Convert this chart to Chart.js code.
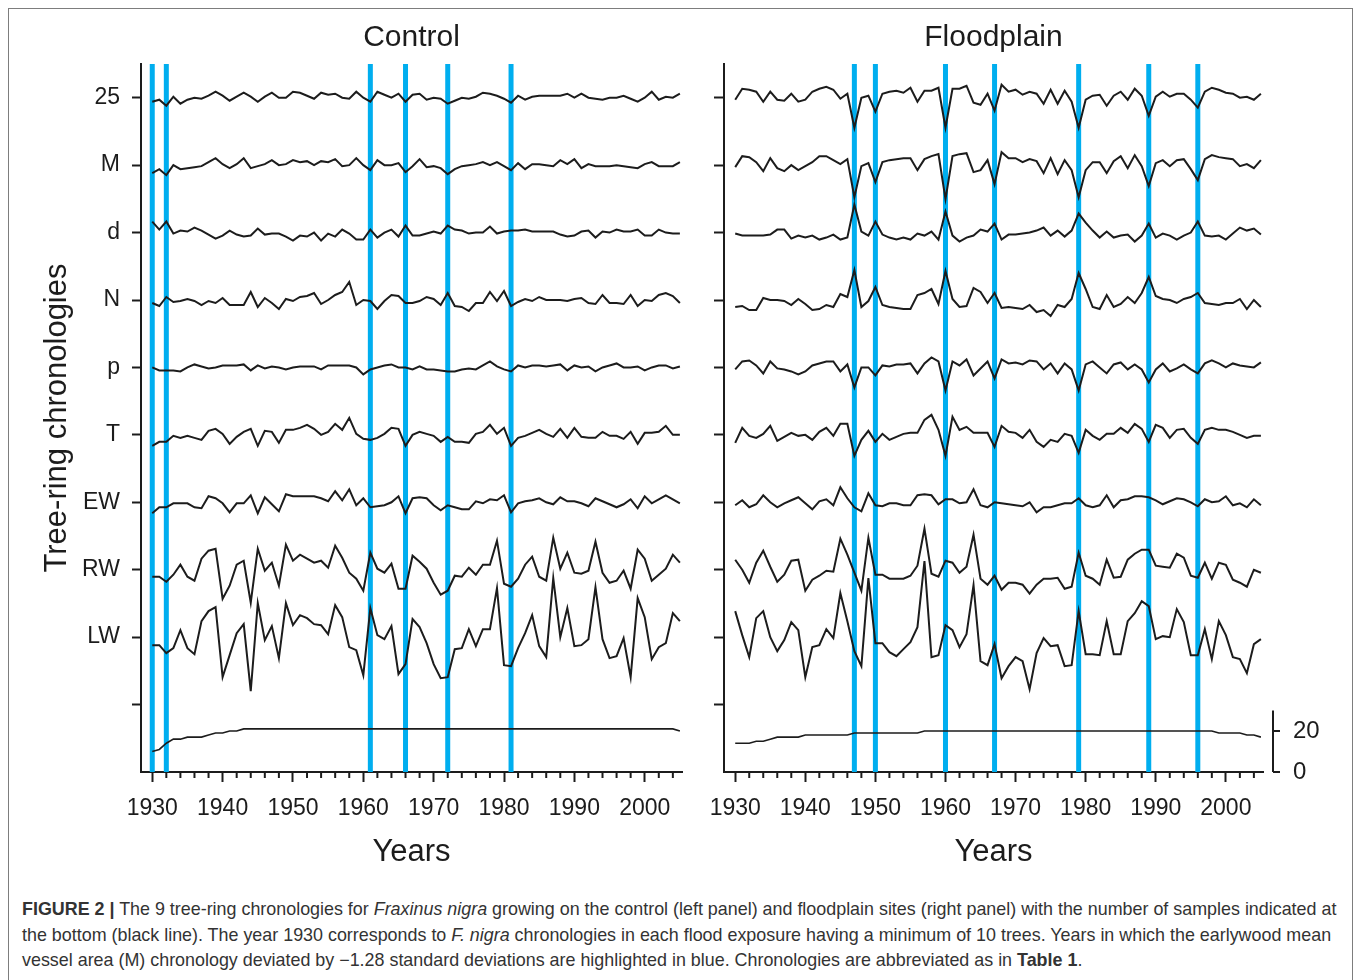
<!DOCTYPE html>
<html>
<head>
<meta charset="utf-8">
<title>Fraxinus nigra tree-ring chronologies</title>
<script src="https://cdn.jsdelivr.net/npm/chart.js@4.4.1/dist/chart.umd.min.js"></script>
<style>
  body { margin: 0; background: #fff; }
  #page { position: relative; width: 1360px; height: 980px; overflow: hidden; background: #fff; }
  #frame { position: absolute; left: 8px; top: 8px; width: 1345px; height: 990px; border: 1.5px solid #7d7d7d; box-sizing: border-box; }
  canvas { position: absolute; top: 0; }
  #cLeft { left: 0; }
  #cRight { left: 694px; }
  #caption { position: absolute; left: 22px; top: 897px; font-family: "Liberation Sans", Arial, sans-serif;
             font-size: 17.9px; line-height: 25.5px; color: #333; white-space: nowrap; }
</style>
</head>
<body>
<div id="page">
  <div id="frame"></div>
  <canvas id="cLeft" width="700" height="880"></canvas>
  <canvas id="cRight" width="666" height="880"></canvas>
  <div id="caption">
    <b>FIGURE 2 |</b> The 9 tree-ring chronologies for <i>Fraxinus nigra</i> growing on the control (left panel) and floodplain sites (right panel) with the number of samples indicated at<br>
    the bottom (black line). The year 1930 corresponds to <i>F. nigra</i> chronologies in each flood exposure having a minimum of 10 trees. Years in which the earlywood mean<br>
    vessel area (M) chronology deviated by −1.28 standard deviations are highlighted in blue. Chronologies are abbreviated as in <b>Table 1</b>.
  </div>
</div>
<script>
// años 1930-2005
const years = [1930, 1931, 1932, 1933, 1934, 1935, 1936, 1937, 1938, 1939,
  1940, 1941, 1942, 1943, 1944, 1945, 1946, 1947, 1948, 1949,
  1950, 1951, 1952, 1953, 1954, 1955, 1956, 1957, 1958, 1959,
  1960, 1961, 1962, 1963, 1964, 1965, 1966, 1967, 1968, 1969,
  1970, 1971, 1972, 1973, 1974, 1975, 1976, 1977, 1978, 1979,
  1980, 1981, 1982, 1983, 1984, 1985, 1986, 1987, 1988, 1989,
  1990, 1991, 1992, 1993, 1994, 1995, 1996, 1997, 1998, 1999,
  2000, 2001, 2002, 2003, 2004, 2005];

// etiquetas de las filas (de abajo hacia arriba)
const rowLabels = ['LW', 'RW', 'EW', 'T', 'p', 'N', 'd', 'M', '25'];
const decadeTicks = [1930, 1940, 1950, 1960, 1970, 1980, 1990, 2000];
const depthTicks = [0, 20];

// años con M < -1.28 desviaciones estándar
const controlFloodYears = [1930, 1932, 1961, 1966, 1972, 1981];
const floodFloodYears = [1947, 1950, 1960, 1967, 1979, 1989, 1996];

// desviaciones de cada cronología (control)
const control25 = [-4, -2, -8, 1, -6, -2, 0, -1, 2, 6, 2, -3, 1, 5, 1, -4, 1, 5, 0, 0,
  6, 5, 2, -1, 5, 3, 4, 0, -1, 6, 0, -4, 6, 3, 0, 4, -4, 3, 4, -2,
  0, -1, -6, -3, 0, -1, 1, 5, 4, 2, -1, -5, 2, -2, 1, 2, 2, 2, 2, 4,
  0, 4, 0, -1, -2, 0, 0, 2, -1, -4, 0, 6, -2, 1, 0, 4];
const controlM = [-8, -4, -10, 0, -4, -3, -2, -1, 3, 7, 1, -3, 1, 7, -3, -1, 1, 5, 0, 1,
  5, 3, 4, 0, 4, 3, 6, -1, 0, 7, 0, -5, 5, 0, 0, 2, -7, -1, 6, -2,
  -1, -3, -9, -4, -1, 0, 1, 3, 0, 3, -1, -5, 2, -4, 1, 1, 0, -1, 5, 1,
  6, -3, 1, -1, -1, -1, 0, -1, -2, -3, 1, 3, -1, -1, -1, 3];
const controlD = [11, 3, 11, -1, 2, 1, 5, 2, -2, -6, -3, 2, -2, -4, -3, 4, -2, -1, -1, -4,
  -8, -3, -4, 0, -8, -1, -4, 3, -1, -7, -7, 3, -5, 0, 3, -4, 7, -3, -3, -1,
  1, -1, 7, 3, 2, -1, 0, 0, 6, -1, 1, 2, 2, 3, 1, 1, 1, 1, -2, -4,
  -3, 1, 2, -5, 1, 0, 3, 1, 1, 3, -3, -3, 3, 0, -1, -1];
const controlN = [-3, -6, 3, -2, -1, 1, -1, -5, -1, -3, 2, -5, -5, -5, 8, -7, 2, -3, -9, 1,
  -1, 3, 4, 7, -4, 0, 5, 8, 18, -5, 0, -1, -9, -1, 5, 4, -3, -3, -1, 3,
  1, -5, 7, -6, -7, -11, -3, -3, 8, -1, 9, -6, -2, 1, -1, 3, 0, 0, 0, -1,
  1, 2, -3, -4, 5, -3, -3, -4, 5, -6, 0, -1, 5, 7, 4, -3];
const controlP = [0, -3, -3, -3, -4, 0, 3, 1, -1, 0, 2, 2, 2, 3, -3, 2, -1, 1, 0, -2,
  0, 1, 1, 1, -2, 2, 2, 2, 2, 0, -7, -2, 0, 2, 3, 0, 0, -2, 1, -2,
  -2, -3, -4, -4, -2, -1, -2, 2, 6, 1, -2, -4, 2, 0, 2, 2, 1, 2, 3, -3,
  2, 0, 1, -4, 0, 2, 4, 0, 0, 1, -3, 0, 2, 2, -1, 1];
const controlT = [-11, -7, -7, -1, -3, -1, -3, -5, 4, 6, 1, -9, -2, 3, 6, -11, 4, 3, -8, 5,
  5, 7, 10, 6, 0, 3, 11, 5, 17, 1, -4, -5, -3, 1, 7, 6, -11, 0, 3, 1,
  -1, -7, -2, -7, -7, -8, 1, 3, 10, 1, 7, -11, -3, -1, 2, 5, 1, -2, 6, -3,
  7, -2, -3, -3, 3, -1, -1, -4, 3, -9, 2, 2, 3, 9, 0, 0];
const controlEW = [-11, -5, -5, -1, -1, -1, -5, -6, 6, 4, -1, -10, -1, -1, 7, -11, 5, -2, -9, 8,
  6, 6, 6, 6, 4, 1, 11, 2, 13, -3, 4, -5, -4, -3, 0, 6, -11, 4, 5, 4,
  -3, -8, -3, -5, -7, -7, 1, -1, 3, 2, 7, -10, -1, 1, 2, 4, 0, -2, 5, 1,
  1, -1, -4, 4, 1, -2, -5, -2, 3, -6, 6, -1, 3, 7, 3, -1];
const controlRW = [-7, -7, -12, -5, 5, -7, -11, 11, 19, 21, -29, -16, 5, 9, -33, 21, -1, 7, -16, 25,
  9, 15, 11, 7, 9, 2, 24, 12, -3, -9, -21, 17, 1, -3, 6, -19, -19, 14, 8, 1,
  -13, -25, -21, -6, -7, 2, -5, 5, 5, 29, -14, -17, -9, 5, 13, -7, -11, 32, 1, 17,
  -3, -4, -1, 28, -3, -13, -11, -1, -19, 20, 11, -11, -5, 1, 15, 7];
const controlLW = [-8, -8, -16, -11, 7, -11, -17, 16, 26, 30, -40, -18, 4, 13, -54, 34, -3, 11, -21, 34,
  12, 22, 19, 13, 12, 3, 32, 20, -10, -13, -38, 29, 2, -2, 11, -37, -27, 18, 10, -6,
  -27, -41, -40, -12, -11, 8, -9, 8, 8, 49, -28, -29, -11, 4, 22, -9, -20, 59, 0, 29,
  -9, -8, -2, 50, -2, -21, -19, -1, -40, 39, 20, -22, -10, -6, 24, 16];
const controlDepth = [10, 11, 14, 16, 16, 17, 17, 17, 18, 19, 19, 20, 20, 21, 21, 21, 21, 21, 21, 21,
  21, 21, 21, 21, 21, 21, 21, 21, 21, 21, 21, 21, 21, 21, 21, 21, 21, 21, 21, 21,
  21, 21, 21, 21, 21, 21, 21, 21, 21, 21, 21, 21, 21, 21, 21, 21, 21, 21, 21, 21,
  21, 21, 21, 21, 21, 21, 21, 21, 21, 21, 21, 21, 21, 21, 21, 20];

// desviaciones de cada cronología (llanura de inundación)
const flood25 = [-2, 9, 8, 6, -4, 6, -2, -3, 4, -4, -2, 6, 9, 11, 8, -1, 4, -30, 0, 2,
  -14, 4, 6, 7, 5, 10, -4, 7, 7, 10, -30, 9, 9, 12, -5, -7, 4, -13, 13, 6,
  8, 3, 6, 4, -6, 8, -6, 7, -4, -30, -2, 2, 3, -8, 2, 6, -2, 9, 2, -18,
  1, 6, 1, 4, 4, -2, -10, 6, 10, 8, 5, 4, 0, 1, -2, 4];
const floodM = [-2, 9, 8, 3, -6, 7, -3, -6, 0, -5, -1, 3, 9, 9, 5, 1, 6, -32, -1, 2,
  -17, 3, 5, 6, 7, 7, -5, 6, 9, 11, -34, 9, 11, 12, -7, -5, 5, -19, 13, 7,
  7, 3, 6, 4, -8, 7, -9, 5, -5, -32, -5, 3, 3, -8, 4, 9, -3, 10, -1, -21,
  2, 5, -1, 5, 6, -4, -15, 6, 10, 8, 7, 6, -1, 1, -3, 5];
const floodD = [-1, -3, -3, -3, -3, -2, 3, 3, -6, -3, -5, -3, -7, -5, -2, -7, -5, 28, 1, -3,
  11, -2, -5, -7, -5, -7, -1, -3, 1, -7, 21, -3, -9, -5, -3, 3, 1, 9, -7, -2,
  -2, -1, 0, 2, 5, -3, 2, -4, 2, 19, 10, 2, -5, 1, -5, -3, -2, -9, -3, 9,
  -5, -1, -3, -7, -3, 0, 11, -3, -4, -3, -7, -1, 5, 2, 4, -2];
const floodN = [-7, -6, -10, -10, 2, 0, 0, -1, -5, 1, -4, -10, -9, -5, -7, 6, 3, 30, -7, -1,
  13, -5, -7, -8, -9, -9, 5, 7, 11, -4, 29, 1, -7, -6, 12, 8, -3, 7, -8, -7,
  -8, -9, -5, -12, -10, -16, -5, -7, 1, 27, 11, -7, -9, 5, -7, -4, 3, -3, 7, 23,
  4, 1, 0, -3, 1, 3, 7, -3, -4, -5, -3, -3, 1, -9, 0, -7];
const floodP = [-2, 6, 7, 2, -6, 6, -1, -2, -4, -7, -4, 2, 4, 6, 6, -4, 3, -20, 0, 0,
  -8, 2, 1, 3, 3, 4, -6, 4, 10, 6, -23, 6, 2, 8, -8, -1, 6, -11, 8, 4,
  5, 3, 7, 6, -2, 4, -6, 4, -2, -23, 3, 6, 0, -6, 3, 5, -2, 3, -2, -15,
  -2, 4, -4, -1, 3, -2, -6, 4, 7, 4, 0, 4, 2, 1, 0, 5];
const floodT = [-8, 7, -1, -3, 1, 9, -6, -2, 2, -1, 0, -5, 3, 7, -1, 11, 11, -21, -5, 4,
  -7, 1, -5, -2, 1, 2, 2, 15, 20, 5, -21, 18, 5, 8, 2, 2, 2, -12, 9, 3,
  2, -3, 5, -7, -12, -5, -7, 1, -1, -18, 5, -1, -5, 1, 1, 7, 2, 11, 6, -7,
  10, 7, -3, 5, 6, -3, -9, 5, 7, 5, 5, 3, 0, -3, -1, -1];
const floodEW = [-3, 2, -5, -2, 7, 0, -5, -1, 2, 5, -1, -7, 1, 3, -3, 15, 4, -5, -9, 9,
  -3, -4, -1, -1, -3, -3, 7, 8, 7, -2, 3, 3, -1, 0, 13, -3, -5, 0, -1, -2,
  -3, -4, 0, -10, -5, -5, -3, -1, -1, 4, -3, -5, -3, 7, -5, 2, 3, 6, 6, 5,
  2, -2, 1, 4, 3, 0, -4, 3, 0, 1, 6, -3, -1, -5, 3, -3];
const floodRW = [10, 0, -13, 7, 19, 3, -12, -5, 9, 10, -21, -10, -6, -1, -2, 31, 15, -3, -21, 32,
  -5, -5, -9, -9, -9, -6, 4, 41, -4, -7, 9, 7, -3, 3, 35, -9, -15, -6, -20, -13,
  -13, -15, -24, -15, -9, -9, -8, -19, -17, 17, -6, -9, -15, 10, -8, -7, 10, 16, 20, 20,
  4, 3, 2, 16, 12, -6, -8, 7, -9, 7, 5, -10, -13, -17, 0, -3];
const floodLW = [26, 2, -20, 19, 26, 0, -14, -3, 15, 7, -40, -10, -8, 8, -1, 44, 16, -14, -29, 59,
  -6, -6, -15, -19, -12, -5, 10, 76, -20, -18, 12, 7, -10, 3, 52, -24, -28, -7, -41, -29,
  -20, -24, -52, -16, -1, -9, -8, -29, -28, 26, -17, -17, -18, 16, -17, -17, 16, 24, 36, 31,
  -2, 1, 0, 28, 15, -18, -18, 8, -22, 16, 2, -20, -22, -36, -7, -2];
const floodDepth = [14, 14, 14, 15, 15, 16, 17, 17, 17, 17, 18, 18, 18, 18, 18, 18, 18, 19, 19, 19,
  19, 19, 19, 19, 19, 19, 19, 20, 20, 20, 20, 20, 20, 20, 20, 20, 20, 20, 20, 20,
  20, 20, 20, 20, 20, 20, 20, 20, 20, 20, 20, 20, 20, 20, 20, 20, 20, 20, 20, 20,
  20, 20, 20, 20, 20, 20, 20, 20, 20, 19, 19, 19, 19, 18, 18, 17];

const fontFamily = '"Liberation Sans", Arial, Helvetica, sans-serif';
const ink = '#1c1c1c';
const floodBlue = '#00aeef';
const rowScale = 67.4;     // desviación (px) por fila
const yMin = -1, yMax = 9.5;
const depthMax = 345;      // 20 muestras = 41 px

// marcas menores del eje x cada 2 años
const minorTicks = {
  id: 'minorTicks',
  afterDraw(chart) {
    const { ctx, chartArea, scales } = chart;
    ctx.save();
    ctx.strokeStyle = ink;
    ctx.lineWidth = 2;
    for (let v = 1930; v <= 2004; v += 2) {
      if (v % 10 === 0) continue;
      const px = scales.x.getPixelForValue(v);
      ctx.beginPath();
      ctx.moveTo(px, chartArea.bottom);
      ctx.lineTo(px, chartArea.bottom + 6);
      ctx.stroke();
    }
    ctx.restore();
  }
};

// corchete del eje de número de muestras
const depthBracket = {
  id: 'depthBracket',
  afterDraw(chart) {
    if (!chart.options.plugins.depthBracket.show) return;
    const { ctx, chartArea, scales } = chart;
    const x = chartArea.right + 10;
    const y0 = scales.yN.getPixelForValue(0);
    const y20 = scales.yN.getPixelForValue(20);
    const yTop = scales.yN.getPixelForValue(30);
    ctx.save();
    ctx.strokeStyle = ink;
    ctx.lineWidth = 2;
    ctx.beginPath();
    ctx.moveTo(x, yTop);
    ctx.lineTo(x, y0);
    ctx.moveTo(x, y0);
    ctx.lineTo(x + 7, y0);
    ctx.moveTo(x, y20);
    ctx.lineTo(x + 7, y20);
    ctx.stroke();
    ctx.restore();
  }
};

function crearPanel(id, titulo, cronologias, muestras, anosInundacion, esDerecho) {
  const datasets = [];
  cronologias.forEach((serie, i) => {
    const nivel = i + 1;
    datasets.push({
      data: years.map((yr, k) => ({ x: yr, y: nivel + serie[k] / rowScale })),
      borderColor: ink, borderWidth: 2, pointRadius: 0, tension: 0, order: 1
    });
  });
  datasets.push({
    data: years.map((yr, k) => ({ x: yr, y: muestras[k] })),
    yAxisID: 'yN', borderColor: ink, borderWidth: 1.6, pointRadius: 0, order: 1
  });
  anosInundacion.forEach(yr => {
    datasets.push({
      data: [{ x: yr, y: yMin }, { x: yr, y: yMax }],
      borderColor: floodBlue, borderWidth: 5, borderCapStyle: 'round', pointRadius: 0, order: 5
    });
  });

  return new Chart(document.getElementById(id), {
    type: 'line',
    data: { datasets },
    options: {
      responsive: false,
      animation: false,
      layout: { padding: { top: 0, right: esDerecho ? 0 : 18, bottom: 0, left: 0 } },
      plugins: {
        legend: { display: false },
        tooltip: { enabled: false },
        title: {
          display: true, text: titulo, color: ink, fullSize: false,
          font: { family: fontFamily, size: 30, weight: 'normal' },
          padding: { top: 20, bottom: 8 }
        },
        depthBracket: { show: esDerecho }
      },
      scales: {
        x: {
          type: 'linear', min: 1928.4, max: 2005.3,
          afterBuildTicks: s => { s.ticks = decadeTicks.map(v => ({ value: v })); },
          afterFit: s => { s.height = 108; },
          grid: { drawOnChartArea: false, drawTicks: true, tickLength: 10, tickWidth: 2, tickColor: ink },
          border: { display: true, color: ink, width: 2 },
          ticks: { color: ink, font: { family: fontFamily, size: 23 }, padding: 13, maxRotation: 0, autoSkip: false,
                   callback: v => String(v) },
          title: { display: true, text: 'Years', color: ink, font: { family: fontFamily, size: 31 },
                   padding: { top: 0, bottom: 9 } }
        },
        y: {
          type: 'linear', min: yMin, max: yMax,
          afterBuildTicks: s => { s.ticks = [0, 1, 2, 3, 4, 5, 6, 7, 8, 9].map(v => ({ value: v })); },
          afterFit: s => { s.width = esDerecho ? 30 : 141; },
          grid: { drawOnChartArea: false, drawTicks: true, tickLength: esDerecho ? 10 : 9, tickWidth: 2, tickColor: ink },
          border: { display: true, color: ink, width: 2 },
          ticks: { color: ink, font: { family: fontFamily, size: 23 }, padding: 12,
                   callback: v => (esDerecho || v < 1) ? '' : rowLabels[v - 1] },
          title: { display: !esDerecho, text: 'Tree-ring chronologies', color: ink,
                   font: { family: fontFamily, size: 31 }, padding: { top: 39, bottom: 0 } }
        },
        yN: {
          type: 'linear', position: 'right', min: 0, max: depthMax, display: esDerecho,
          afterBuildTicks: s => { s.ticks = depthTicks.map(v => ({ value: v })); },
          afterFit: s => { s.width = esDerecho ? 97 : 0; },
          grid: { drawOnChartArea: false, drawTicks: false },
          border: { display: false },
          ticks: { color: ink, font: { family: fontFamily, size: 24 }, padding: 30, callback: v => String(v) }
        }
      }
    },
    plugins: [minorTicks, depthBracket]
  });
}

crearPanel('cLeft', 'Control',
  [controlLW, controlRW, controlEW, controlT, controlP, controlN, controlD, controlM, control25],
  controlDepth, controlFloodYears, false);
crearPanel('cRight', 'Floodplain',
  [floodLW, floodRW, floodEW, floodT, floodP, floodN, floodD, floodM, flood25],
  floodDepth, floodFloodYears, true);
</script>
</body>
</html>
